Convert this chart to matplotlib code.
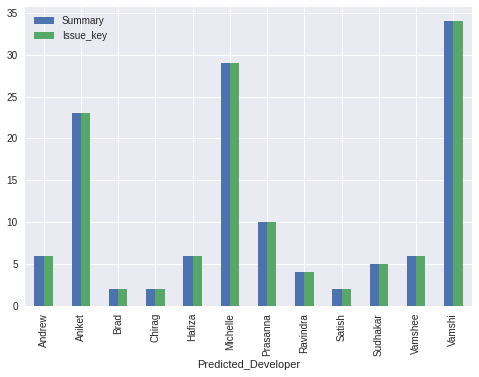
import numpy as np
import pandas as pd
from matplotlib import pyplot as plt

plt.style.use('seaborn-v0_8')

# Data
developers = ['Andrew', 'Aniket', 'Brad', 'Chirag', 'Hafiza', 'Michelle',
              'Prasanna', 'Ravindra', 'Satish', 'Sudhakar', 'Vamshee', 'Vamshi']
summary = [6, 23, 2, 2, 6, 29, 10, 4, 2, 5, 6, 34]
issue_key = [6, 23, 2, 2, 6, 29, 10, 4, 2, 5, 6, 34]

df = pd.DataFrame({'Summary': summary, 'Issue_key': issue_key},
                  index=pd.Index(developers, name='Predicted_Developer'))

fig, ax = plt.subplots(figsize=(479 / 72, 377 / 72), dpi=72)
df.plot(kind='bar', ax=ax)

ax.legend(loc='upper left')

fig.subplots_adjust(left=25 / 479, right=472 / 479, top=1 - 7 / 377, bottom=1 - 306 / 377)
fig.savefig('out.png', dpi=72)
